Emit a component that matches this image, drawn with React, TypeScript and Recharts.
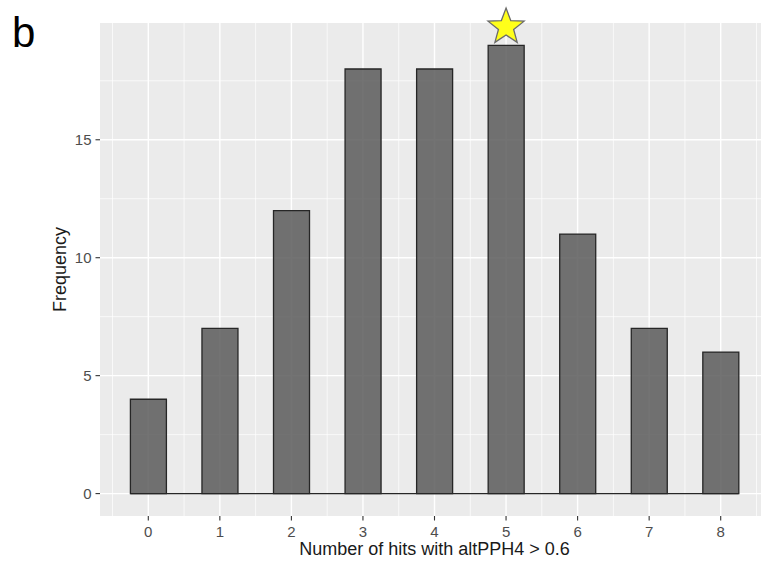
import React from "react";
import {
  ComposedChart,
  Bar,
  XAxis,
  YAxis,
  CartesianGrid,
  ReferenceLine,
  ReferenceDot,
} from "recharts";

// histogram bins (binwidth 0.5), empty bins in between
const binCenters = [0, 0.5, 1, 1.5, 2, 2.5, 3, 3.5, 4, 4.5, 5, 5.5, 6, 6.5, 7, 7.5, 8];
const frequencies = [4, 0, 7, 0, 12, 0, 18, 0, 18, 0, 19, 0, 11, 0, 7, 0, 6];
const binWidth = 0.5;

const xTicks = [0, 1, 2, 3, 4, 5, 6, 7, 8];
const xMinor = [-0.5, 0.5, 1.5, 2.5, 3.5, 4.5, 5.5, 6.5, 7.5, 8.5];
const yTicks = [0, 5, 10, 15];
const yMinor = [2.5, 7.5, 12.5, 17.5];

const highlightedBin = 5;

const data = binCenters.map((x, i) => ({ x, count: frequencies[i] }));
const highlightedCount = frequencies[binCenters.indexOf(highlightedBin)];

const font = "'Liberation Sans', Arial, sans-serif";
const tickStyle = { fill: "#4D4D4D", fontSize: 15 };

function Star(props: any) {
  const { cx, cy } = props;
  if (cx == null || cy == null) return null;
  const R = 19;
  const r = R * 0.42;
  const centerY = cy - R * 0.809 - 3;
  const pts: string[] = [];
  for (let i = 0; i < 10; i++) {
    const rad = i % 2 === 0 ? R : r;
    const a = -Math.PI / 2 + (i * Math.PI) / 5;
    pts.push(`${cx + rad * Math.cos(a)},${centerY + rad * Math.sin(a)}`);
  }
  return <polygon points={pts.join(" ")} fill="#FFFF1A" stroke="#6b6b6b" strokeWidth={1.3} />;
}

export default function App() {
  const first = binCenters[0] - binWidth / 2;
  const last = binCenters[binCenters.length - 1] + binWidth / 2;
  return (
    <div
      style={{
        position: "absolute",
        left: 0,
        top: 0,
        width: 761,
        height: 567,
        overflow: "hidden",
        background: "#ffffff",
        fontFamily: font,
      }}
    >
      <svg width={60} height={60} style={{ position: "absolute", left: 0, top: 0 }}>
        <text x={12} y={47} fontSize={42} fill="#000000" fontFamily={font}>
          b
        </text>
      </svg>
      <ComposedChart
        width={769}
        height={567}
        data={data}
        margin={{ top: 23, right: 0, bottom: 0, left: 40 }}
        barCategoryGap={0}
        style={{ fontFamily: font }}
      >
        <CartesianGrid
          fill="#EBEBEB"
          fillOpacity={1}
          stroke="#FFFFFF"
          strokeWidth={0.7}
          horizontalValues={yMinor}
          verticalValues={xMinor}
        />
        <CartesianGrid
          stroke="#FFFFFF"
          strokeWidth={1.4}
          horizontalValues={yTicks}
          verticalValues={xTicks}
        />
        <XAxis
          dataKey="x"
          type="number"
          domain={[-0.675, 8.675]}
          ticks={xTicks}
          allowDataOverflow
          axisLine={false}
          tickLine={{ stroke: "#333333", strokeWidth: 1.1 }}
          tickSize={4.5}
          tickMargin={6}
          fontSize={15}
          tick={{ ...tickStyle, style: tickStyle }}
          height={51}
          label={{
            value: "Number of hits with altPPH4 > 0.6",
            position: "insideBottom",
            offset: 12,
            fill: "#1A1A1A",
            fontSize: 18,
          }}
        />
        <YAxis
          type="number"
          domain={[-0.95, 19.95]}
          ticks={yTicks}
          allowDataOverflow
          axisLine={false}
          tickLine={{ stroke: "#333333", strokeWidth: 1.1 }}
          tickSize={4.5}
          tickMargin={4}
          fontSize={15}
          tick={{ ...tickStyle, style: tickStyle }}
          width={60}
          label={{
            value: "Frequency",
            angle: -90,
            position: "insideLeft",
            offset: 20,
            fill: "#1A1A1A",
            fontSize: 18,
            style: { textAnchor: "middle" },
          }}
        />
        <Bar
          dataKey="count"
          fill="#5a5a5a"
          fillOpacity={0.85}
          stroke="#262626"
          strokeWidth={1.3}
          isAnimationActive={false}
        />
        <ReferenceLine
          segment={[
            { x: first, y: 0 },
            { x: last, y: 0 },
          ]}
          stroke="#262626"
          strokeWidth={1.3}
        />
        <ReferenceDot
          x={highlightedBin}
          y={highlightedCount}
          shape={(p: any) => <Star {...p} />}
        />
      </ComposedChart>
    </div>
  );
}
